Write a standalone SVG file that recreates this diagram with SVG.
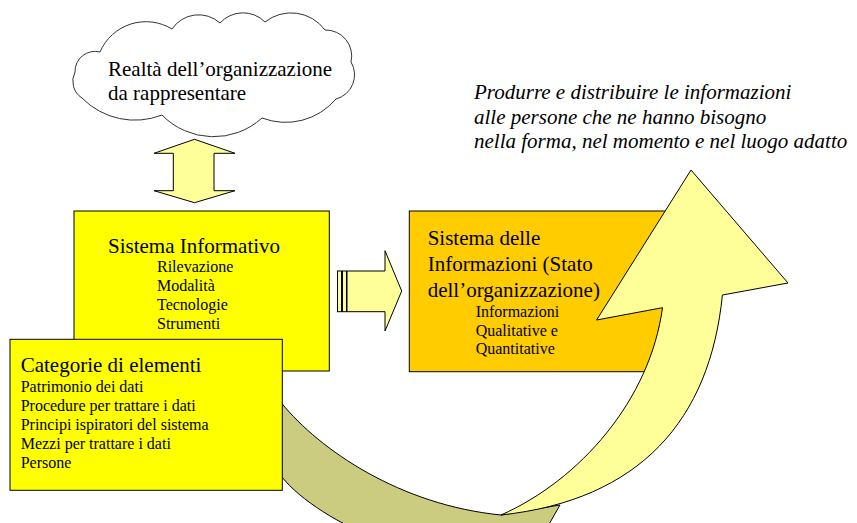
<svg xmlns="http://www.w3.org/2000/svg" width="857" height="523" viewBox="0 0 857 523">
<style>
.t{font-family:"Liberation Serif","Times New Roman",serif;fill:#000}
.h{font-size:21px}
.s{font-size:16px}
.i{font-size:21px;font-style:italic}
.ln{stroke:#000;stroke-width:1}
</style>
<rect width="857" height="523" fill="#fff"/>
<g id="connectors">
  <path id="curved-arrow-back" d="M281.7,403.3 C320,450 400,505 501,515 L560,505 L540,540 L380,540 C340,525 300,500 281.7,476.7 Z" fill="#CCCC80" stroke="#000" stroke-width="1"/>
</g>
<g id="node-cloud">
  <path d="M75,72 A20,20 0 0 1 100,52 A50,50 0 0 1 172,29 A32,32 0 0 1 220,23 A31,31 0 0 1 265,22 A42,42 0 0 1 325,30 A26,26 0 0 1 351,62 A25,25 0 0 1 336,99 A66,66 0 0 1 262,118 A72,72 0 0 1 162,115 A74,74 0 0 1 82,98 A20,20 0 0 1 75,72 Z" fill="#fff" stroke="#333" stroke-width="1"/>
  <text class="t h" x="108" y="76">Realtà dell’organizzazione</text>
  <text class="t h" x="108" y="100">da rappresentare</text>
</g>
<g id="double-arrow">
  <polygon points="194.5,139.3 235,153.3 214,153.3 214,190.7 235,190.7 194.5,202.7 154,190.7 173.3,190.7 173.3,153.3 154,153.3" fill="#FFFF99" class="ln"/>
</g>
<g id="node-sistema-informativo">
  <rect x="74" y="211" width="255.3" height="160" fill="#FFFF00" class="ln"/>
  <text class="t h" x="108" y="253">Sistema Informativo</text>
  <text class="t s" x="157" y="272">Rilevazione</text>
  <text class="t s" x="157" y="291">Modalità</text>
  <text class="t s" x="157" y="310">Tecnologie</text>
  <text class="t s" x="157" y="329">Strumenti</text>
</g>
<g id="node-categorie">
  <rect x="10" y="339.3" width="272.3" height="151" fill="#FFFF00" class="ln"/>
  <text class="t h" x="20.7" y="372">Categorie di elementi</text>
  <text class="t s" x="20.7" y="391.7">Patrimonio dei dati</text>
  <text class="t s" x="20.7" y="411">Procedure per trattare i dati</text>
  <text class="t s" x="20.7" y="430">Principi ispiratori del sistema</text>
  <text class="t s" x="20.7" y="449">Mezzi per trattare i dati</text>
  <text class="t s" x="20.7" y="468.3">Persone</text>
</g>
<g id="right-arrow">
  <rect x="337.5" y="271" width="4" height="40.7" fill="#FFFF99" class="ln"/>
  <rect x="342.5" y="271" width="4" height="40.7" fill="#FFFF99" class="ln"/>
  <polygon points="347,271 385,271 385,250.7 401.7,291 385,331 385,311.7 347,311.7" fill="#FFFF99" class="ln"/>
</g>
<g id="node-sistema-informazioni">
  <rect x="409.3" y="211" width="260" height="160.7" fill="#FFCC00" class="ln"/>
  <text class="t h" x="427.7" y="245">Sistema delle</text>
  <text class="t h" x="427.7" y="270.7">Informazioni (Stato</text>
  <text class="t h" x="427.7" y="296.7">dell’organizzazione)</text>
  <text class="t s" x="475.7" y="317.3">Informazioni</text>
  <text class="t s" x="475.7" y="335.7">Qualitative e</text>
  <text class="t s" x="475.7" y="354">Quantitative</text>
</g>
<g id="curved-arrow-front">
  <path d="M501,515 C580,480 650,400 662.5,307.7 L596.6,320 L691,170 L788,283 L722.4,295 C710,420 640,500 501,515 Z" fill="#FFFF99" stroke="#000" stroke-width="1"/>
</g>
<g id="goal-text">
  <text class="t i" x="474" y="99">Produrre e distribuire le informazioni</text>
  <text class="t i" x="474" y="123.5">alle persone che ne hanno bisogno</text>
  <text class="t i" x="474" y="148">nella forma, nel momento e nel luogo adatto</text>
</g>
</svg>
